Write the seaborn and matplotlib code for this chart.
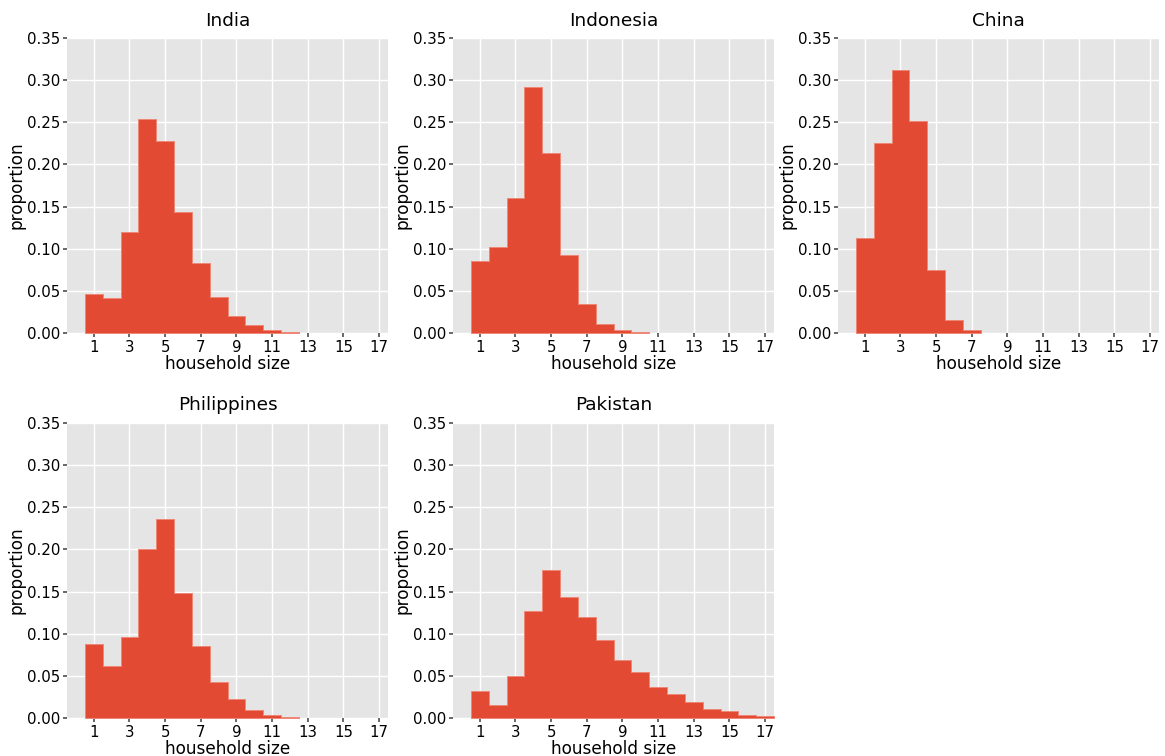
import numpy as np
import pandas as pd
import matplotlib
matplotlib.use("Agg")
import matplotlib.pyplot as plt
import seaborn as sns

countries = ["India", "Indonesia", "China", "Philippines", "Pakistan"]
household_size = list(range(1, 18))
india = [0.046, 0.042, 0.120, 0.254, 0.228, 0.144, 0.083, 0.043, 0.020, 0.009, 0.004, 0.001, 0, 0, 0, 0, 0]
indonesia = [0.086, 0.102, 0.160, 0.292, 0.213, 0.093, 0.035, 0.011, 0.003, 0.001, 0, 0, 0, 0, 0, 0, 0]
china = [0.113, 0.225, 0.312, 0.252, 0.075, 0.016, 0.003, 0, 0, 0, 0, 0, 0, 0, 0, 0, 0]
philippines = [0.088, 0.062, 0.096, 0.201, 0.236, 0.148, 0.086, 0.043, 0.022, 0.009, 0.003, 0.001, 0, 0, 0, 0, 0]
pakistan = [0.032, 0.015, 0.050, 0.127, 0.176, 0.144, 0.120, 0.093, 0.069, 0.054, 0.037, 0.028, 0.019, 0.011, 0.008, 0.004, 0.002]
series = [india, indonesia, china, philippines, pakistan]
xticks = [1, 3, 5, 7, 9, 11, 13, 15, 17]
yticks = [0.00, 0.05, 0.10, 0.15, 0.20, 0.25, 0.30, 0.35]

sns.set_theme(style="darkgrid", rc={
    "axes.facecolor": "#E5E5E5",
    "grid.color": "white",
    "grid.linewidth": 1.0,
    "axes.edgecolor": "white",
    "xtick.bottom": True,
    "ytick.left": True,
    "xtick.color": "#555555",
    "ytick.color": "#555555",
    "xtick.labelcolor": "black",
    "ytick.labelcolor": "black",
    "axes.labelcolor": "black",
    "text.color": "black",
    "xtick.major.size": 3,
    "ytick.major.size": 3,
    "xtick.direction": "out",
    "ytick.direction": "out",
})
plt.rcParams["font.family"] = ["DejaVu Sans"]

fig = plt.figure(figsize=(11.65, 7.56), dpi=100)
W, H = 1165, 756
lefts = [67, 453, 838]
tops = [38, 423]
aw, ah = 321, 295

for i, (name, vals) in enumerate(zip(countries, series)):
    r, c = divmod(i, 3)
    x0 = lefts[c]
    y0 = tops[r]
    ax = fig.add_axes([x0 / W, 1 - (y0 + ah) / H, aw / W, ah / H])
    df = pd.DataFrame({"size": household_size, "prop": vals})
    df = df[df["prop"] > 0]
    sns.histplot(data=df, x="size", weights="prop", discrete=True, element="step",
                 fill=True, color="#E24A33", alpha=1.0, edgecolor="#EE8877",
                 linewidth=0.7, ax=ax)
    ax.set_xlim(-0.5, 17.5)
    ax.set_ylim(0, 0.35)
    ax.set_xticks(xticks)
    ax.set_yticks(yticks)
    ax.set_yticklabels([f"{v:.2f}" for v in yticks])
    ax.tick_params(labelsize=10.8, pad=2)
    ax.set_xlabel("household size", fontsize=12.2, labelpad=0)
    ax.set_ylabel("proportion", fontsize=12.2, labelpad=1)
    ax.set_title(name, fontsize=13.3, pad=9)
    for s in ax.spines.values():
        s.set_visible(False)

fig.savefig("out.png", dpi=100)
